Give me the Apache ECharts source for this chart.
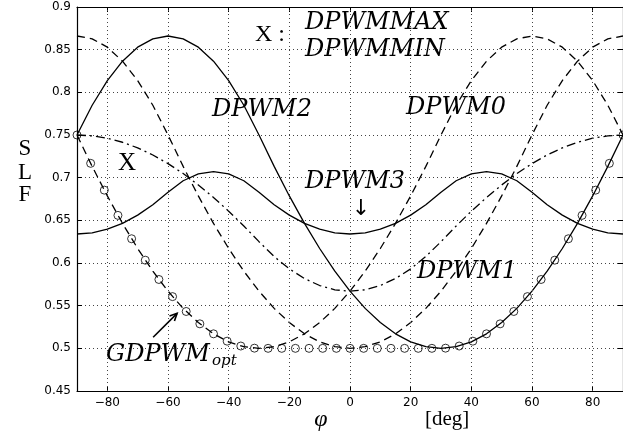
<!DOCTYPE html>
<html><head><meta charset="utf-8">
<script src="https://cdn.jsdelivr.net/npm/echarts@6/dist/echarts.min.js"></script>
<style>html,body{margin:0;padding:0;background:#fff}#c{width:623px;height:441px}</style>
</head><body><div id="c"></div>
<script>
// phase angle φ [deg]
const phi = [-90,-85,-80,-75,-70,-65,-60,-55,-50,-45,-40,-35,-30,-25,-20,-15,-10,-5,0,5,10,15,20,25,30,35,40,45,50,55,60,65,70,75,80,85,90];
const dpwm0 = [0.75,0.7132,0.6786,0.6464,0.617,0.5904,0.567,0.5468,0.5302,0.517,0.5076,0.5019,0.5,0.5019,0.5076,0.517,0.5302,0.5468,0.567,0.5904,0.617,0.6464,0.6786,0.7132,0.75,0.7849,0.8138,0.8365,0.8529,0.8627,0.866,0.8627,0.8529,0.8365,0.8138,0.7849,0.75];
const dpwm1 = [0.866,0.8627,0.8529,0.8365,0.8138,0.7849,0.75,0.7132,0.6786,0.6464,0.617,0.5904,0.567,0.5468,0.5302,0.517,0.5076,0.5019,0.5,0.5019,0.5076,0.517,0.5302,0.5468,0.567,0.5904,0.617,0.6464,0.6786,0.7132,0.75,0.7849,0.8138,0.8365,0.8529,0.8627,0.866];
const dpwm2 = [0.75,0.7849,0.8138,0.8365,0.8529,0.8627,0.866,0.8627,0.8529,0.8365,0.8138,0.7849,0.75,0.7132,0.6786,0.6464,0.617,0.5904,0.567,0.5468,0.5302,0.517,0.5076,0.5019,0.5,0.5019,0.5076,0.517,0.5302,0.5468,0.567,0.5904,0.617,0.6464,0.6786,0.7132,0.75];
const dpwm3 = [0.634,0.6354,0.6396,0.6465,0.6561,0.6683,0.683,0.6964,0.7044,0.7071,0.7044,0.6964,0.683,0.6683,0.6561,0.6465,0.6396,0.6354,0.634,0.6354,0.6396,0.6465,0.6561,0.6683,0.683,0.6964,0.7044,0.7071,0.7044,0.6964,0.683,0.6683,0.6561,0.6465,0.6396,0.6354,0.634];
const dpwmX = [0.75,0.749,0.7462,0.7415,0.7349,0.7266,0.7165,0.7048,0.6915,0.6768,0.6607,0.6434,0.625,0.6076,0.5931,0.5818,0.5736,0.5686,0.567,0.5686,0.5736,0.5818,0.5931,0.6076,0.625,0.6434,0.6607,0.6768,0.6915,0.7048,0.7165,0.7266,0.7349,0.7415,0.7462,0.749,0.75];
const phiOpt = [-90,-85.5,-81,-76.5,-72,-67.5,-63,-58.5,-54,-49.5,-45,-40.5,-36,-31.5,-27,-22.5,-18,-13.5,-9,-4.5,0,4.5,9,13.5,18,22.5,27,31.5,36,40.5,45,49.5,54,58.5,63,67.5,72,76.5,81,85.5,90];
const gdpwmOpt = [0.75,0.7168,0.6854,0.6558,0.6284,0.6033,0.5807,0.5606,0.5432,0.5287,0.517,0.5084,0.5027,0.5002,0.5,0.5,0.5,0.5,0.5,0.5,0.5,0.5,0.5,0.5,0.5,0.5,0.5,0.5002,0.5027,0.5084,0.517,0.5287,0.5432,0.5606,0.5807,0.6033,0.6284,0.6558,0.6854,0.7168,0.75];
const xTicks = [-80,-60,-40,-20,0,20,40,60,80];

function pairs(xs, ys){ return xs.map((x,i)=>[x,ys[i]]); }

const chart = echarts.init(document.getElementById('c'), null, {renderer:'canvas'});
const lblFont = {fontFamily:'DejaVu Sans', fontSize:12, color:'#000'};
const axLine = {show:true, onZero:false, lineStyle:{color:'#000', width:1.2}};
const gridStyle = {type:[1,3], color:'#444', width:1};
function lineSeries(name, ys, type){
  return {name, type:'line', data:pairs(phi, ys), symbol:'none', showSymbol:false,
    lineStyle:{color:'#000', width:1.3, type:type}, z:3, silent:true};
}
chart.setOption({
  animation:false,
  backgroundColor:'#fff',
  grid:{left:77, top:7, right:-2, bottom:50},
  xAxis:[
    {type:'value', min:-90, max:90, position:'bottom', axisLine:axLine,
     axisTick:{show:true, inside:true, length:5, customValues:xTicks, lineStyle:{color:'#000'}},
     axisLabel:Object.assign({customValues:xTicks, margin:6, formatter:v=>String(v).replace('-','\u2212')}, lblFont),
     splitLine:{show:false}},
    {type:'value', min:-90, max:90, position:'top', axisLine:axLine,
     axisTick:{show:true, inside:true, length:5, customValues:xTicks, lineStyle:{color:'#000'}},
     axisLabel:{show:false}, splitLine:{show:false}}
  ],
  yAxis:[
    {type:'value', min:0.45, max:0.9, interval:0.05, position:'left', axisLine:axLine,
     axisTick:{show:true, inside:true, length:5, lineStyle:{color:'#000'}},
     axisLabel:Object.assign({margin:6}, lblFont), splitLine:{show:true, lineStyle:gridStyle}},
    {type:'value', min:0.45, max:0.9, interval:0.05, position:'right', axisLine:axLine,
     axisTick:{show:true, inside:true, length:5, lineStyle:{color:'#000'}},
     axisLabel:{show:false}, splitLine:{show:false}}
  ],
  series:[
    {name:'vgrid', type:'line', data:[], z:1, silent:true,
     markLine:{silent:true, symbol:['none','none'], label:{show:false}, lineStyle:gridStyle,
       emphasis:{disabled:true}, data:xTicks.map(v=>({xAxis:v}))}},
    lineSeries('DPWM2', dpwm2, 'solid'),
    lineSeries('DPWM3', dpwm3, 'solid'),
    lineSeries('DPWM0', dpwm0, [8,5]),
    lineSeries('DPWM1', dpwm1, [8,5]),
    lineSeries('X', dpwmX, [9,4,2,4]),
    {name:'GDPWMopt', type:'scatter', data:pairs(phiOpt, gdpwmOpt), symbol:'circle', symbolSize:8,
     itemStyle:{color:'rgba(0,0,0,0)', borderColor:'#000', borderWidth:1}, clip:false, z:5, silent:true}
  ]
});

// annotations
const it = 'italic 24px "DejaVu Serif"';
const rm = '24px "Liberation Serif"';
function txt(text, x, y, font, align){
  return {type:'text', x:x, y:y, z:10, silent:true,
    style:{text:text, font:font, fill:'#000', align:align||'left', verticalAlign:'middle'}};
}
const pA = chart.convertToPixel({xAxisIndex:0, yAxisIndex:0}, [-64.9, 0.513]);
const pB = chart.convertToPixel({xAxisIndex:0, yAxisIndex:0}, [-57.0, 0.541]);
const dx = pB[0]-pA[0], dy = pB[1]-pA[1], L = Math.hypot(dx,dy);
const ux = dx/L, uy = dy/L, hl = 8, ang = 0.45;
function rot(x,y,a){ return [x*Math.cos(a)-y*Math.sin(a), x*Math.sin(a)+y*Math.cos(a)]; }
const h1 = rot(-ux,-uy, ang), h2 = rot(-ux,-uy,-ang);
chart.setOption({graphic:[
  txt('X :', 255, 35, rm),
  txt('DPWMMAX', 305, 23, it),
  txt('DPWMMIN', 305, 50, it),
  txt('DPWM2', 212, 110, it),
  txt('DPWM0', 406, 108, it),
  txt('X', 118, 163, '25px "Liberation Serif"'),
  txt('DPWM3', 305, 182, it),
  txt('\u2193', 361, 209, '22px "DejaVu Sans"', 'center'),
  txt('DPWM1', 417, 272, it),
  txt('GDPWM', 106, 355, it),
  txt('opt', 212, 361, 'italic 15px "DejaVu Serif"'),
  {type:'polyline', silent:true, z:10, shape:{points:[pA, pB]}, style:{stroke:'#000', lineWidth:1.6, fill:null}},
  {type:'polyline', silent:true, z:10, shape:{points:[[pB[0]+h1[0]*hl, pB[1]+h1[1]*hl], pB, [pB[0]+h2[0]*hl, pB[1]+h2[1]*hl]]}, style:{stroke:'#000', lineWidth:1.6, fill:null}},
  txt('S', 25, 149, '23px "Liberation Serif"', 'center'),
  txt('L', 25, 173, '23px "Liberation Serif"', 'center'),
  txt('F', 25, 195, '23px "Liberation Serif"', 'center'),
  txt('\u03C6', 321, 420, 'italic 24px "Liberation Serif"', 'center'),
  txt('[deg]', 425, 419, '21px "Liberation Serif"')
]});
</script>
</body></html>
